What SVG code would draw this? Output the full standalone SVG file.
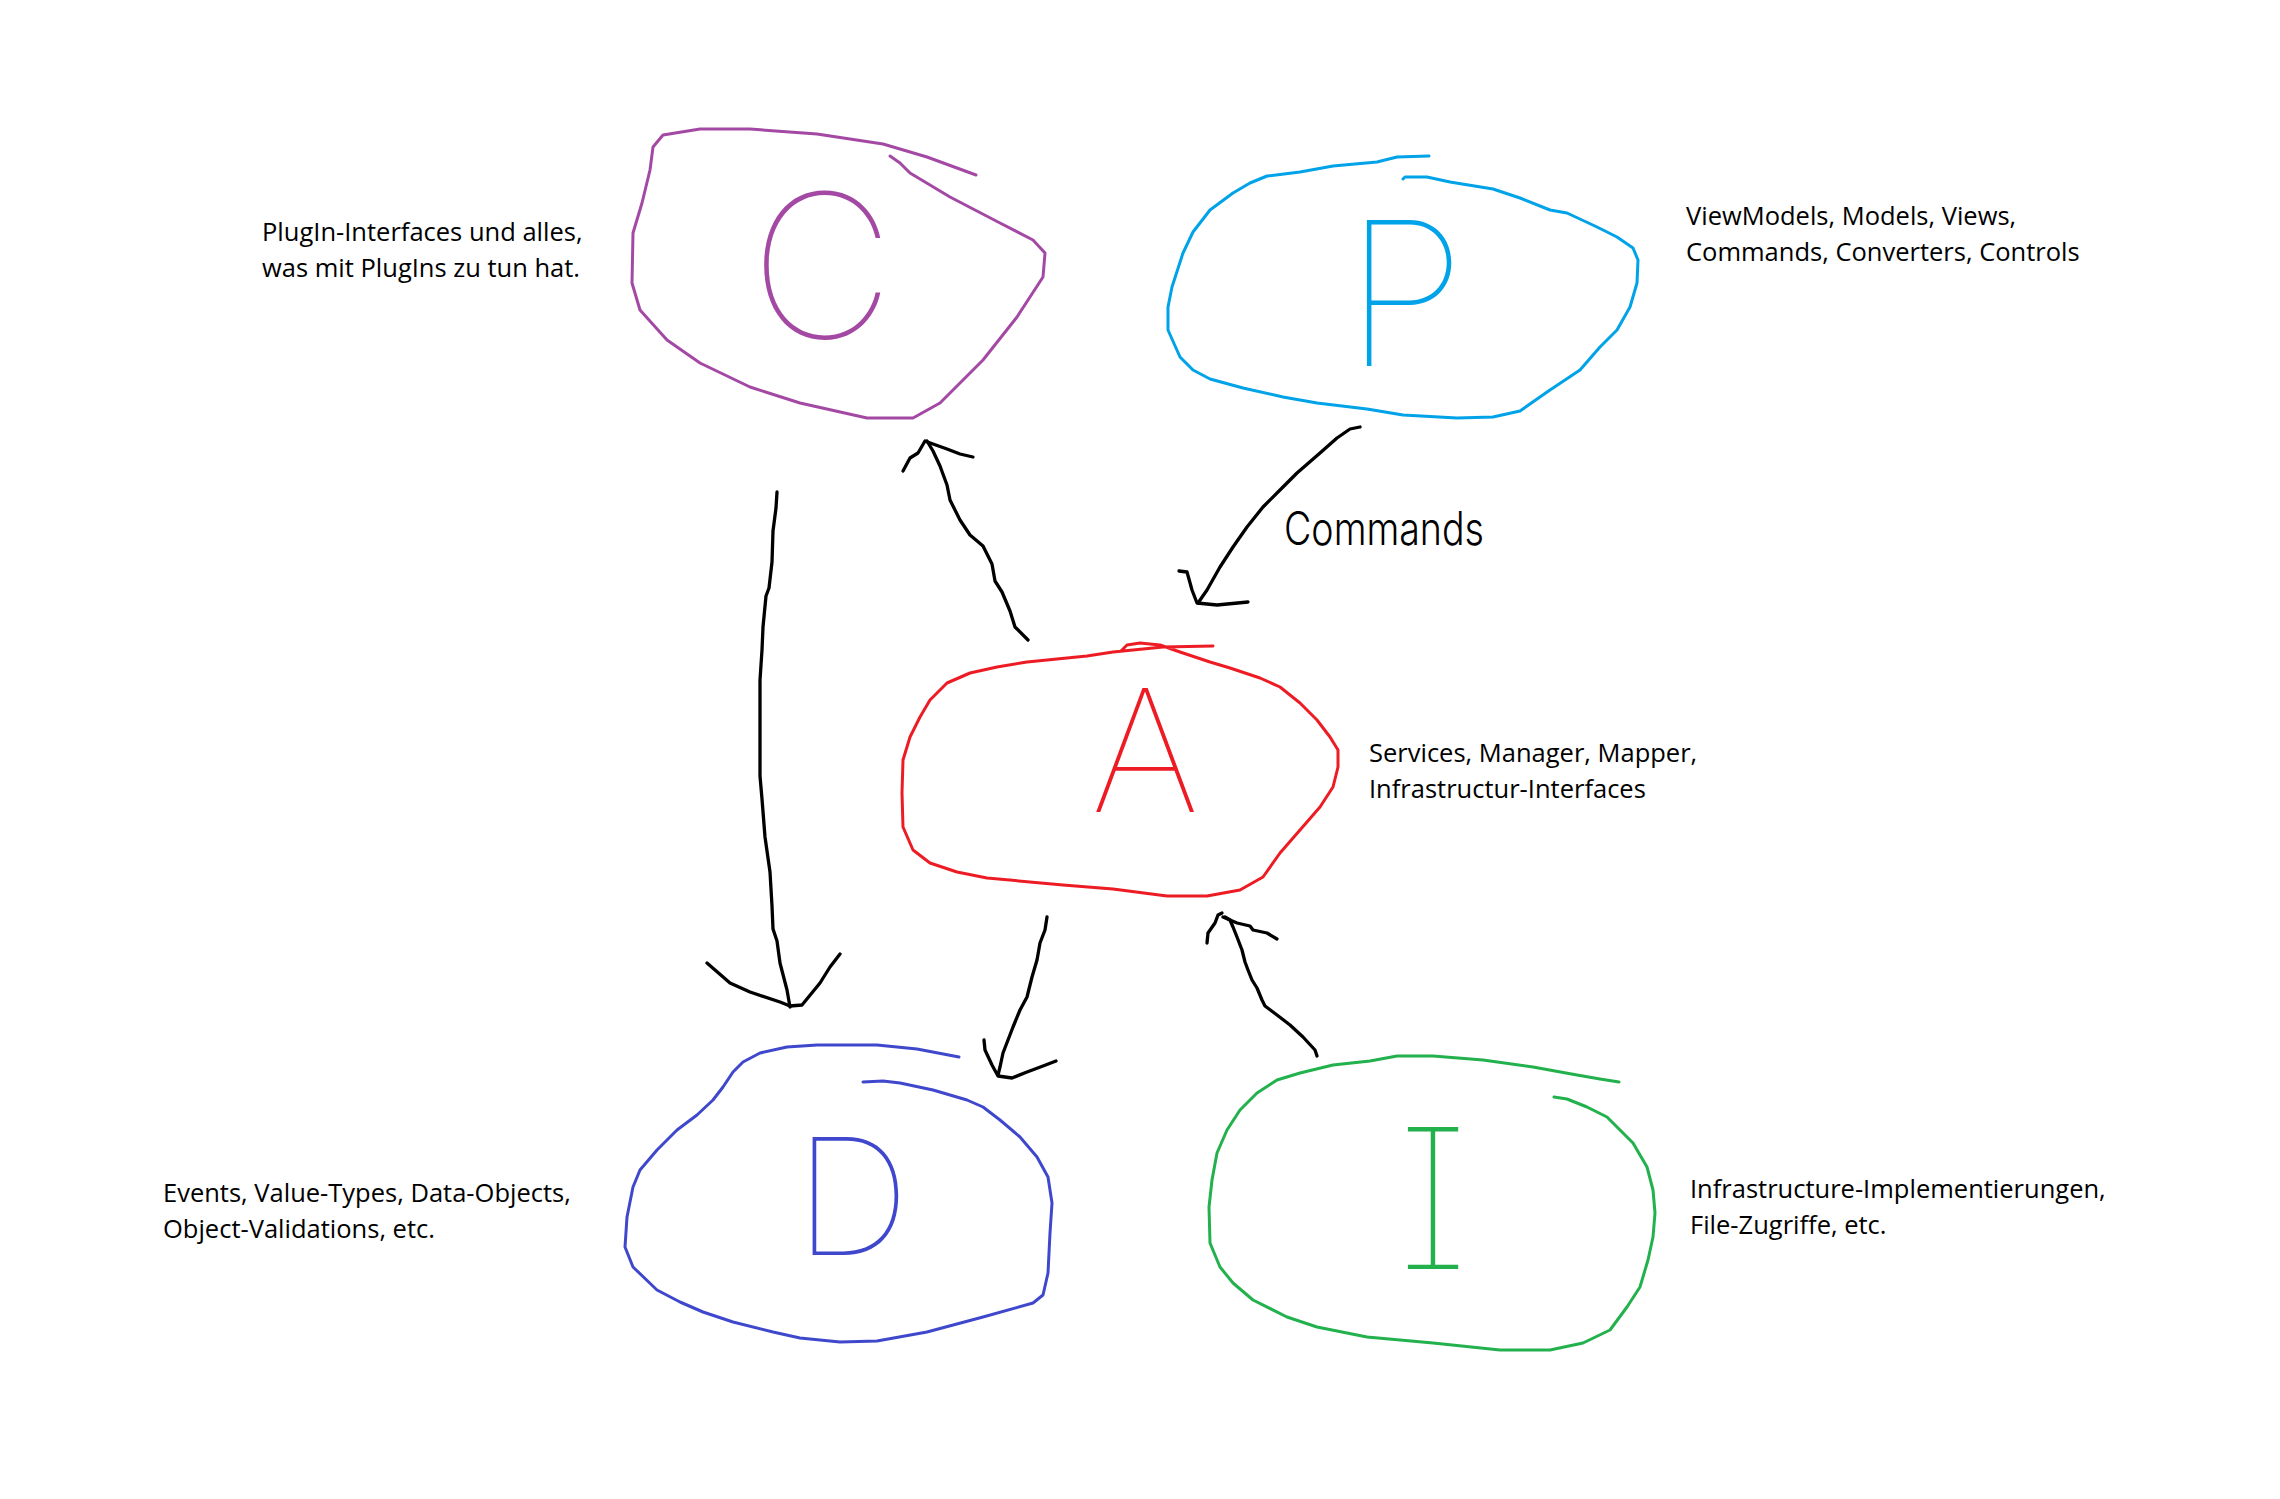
<svg xmlns="http://www.w3.org/2000/svg" width="2280" height="1499" viewBox="0 0 2280 1499">
<style>
.s{fill:none;stroke-width:3;stroke-linecap:round;stroke-linejoin:round}
.k{fill:none;stroke:#000;stroke-width:3.3;stroke-linecap:round;stroke-linejoin:round}
.lbl{font-family:"Open Sans","Noto Sans","Liberation Sans",sans-serif;font-size:25.5px;fill:#000}
.hand{font-family:Inter,Lato,Roboto,"DejaVu Sans",sans-serif;font-weight:100;text-anchor:middle}
.pu{stroke:#A349A4}.cy{stroke:#00A2E8}.rd{stroke:#ED1C24}.in{stroke:#3F48CC}.gr{stroke:#22B14C}
</style>
<rect width="2280" height="1499" fill="#fff"/>
<g id="node-C">
<polyline class="s pu" points="976,175 927,157 883,144 817,134 750,129 700,129 663,135 653,147 650,170 642,203 633,233 632,283 640,310 667,340 700,363 750,387 800,403 867,418 913,418 940,403 983,360 1017,317 1043,277 1045,253 1033,240 1000,223 950,197 910,173 900,163 890,156"/>
<text class="hand" x="822" y="338" font-size="200" fill="#A349A4">C</text>
<text class="lbl"><tspan x="262" y="241">PlugIn-Interfaces und alles,</tspan><tspan x="262" y="277">was mit PlugIns zu tun hat.</tspan></text>
</g>
<g id="node-P">
<polyline class="s cy" points="1429,156 1397,157 1377,162 1333,166 1300,172 1267,176 1250,183 1233,193 1210,210 1193,232 1183,253 1172,287 1168,307 1168,330 1180,357 1193,370 1210,379 1243,388 1283,397 1317,403 1367,409 1403,415 1457,418 1493,417 1520,411 1550,390 1580,370 1600,347 1617,330 1630,307 1637,283 1638,260 1633,248 1617,237 1597,227 1567,213 1550,210 1520,198 1493,189 1450,182 1427,177 1405,177 1403,179"/>
<text class="hand" x="1405" y="366" font-size="200" fill="#00A2E8">P</text>
<text class="lbl"><tspan x="1686" y="225">ViewModels, Models, Views,</tspan><tspan x="1686" y="261">Commands, Converters, Controls</tspan></text>
</g>
<g id="node-A">
<polyline class="s rd" points="1213,646 1163,647 1113,652 1087,656 1027,662 997,667 970,673 947,683 930,700 920,717 910,737 903,760 902,793 903,827 913,850 930,863 957,872 987,878 1063,885 1113,889 1167,896 1207,896 1240,890 1263,877 1280,853 1300,830 1320,807 1333,787 1338,767 1338,750 1330,737 1317,720 1300,703 1280,687 1260,678 1230,668 1210,662 1180,652 1160,645 1140,643 1127,645 1121,651"/>
<text class="hand" x="1145" y="812" font-size="170" fill="#ED1C24">A</text>
<text class="lbl"><tspan x="1369" y="762">Services, Manager, Mapper,</tspan><tspan x="1369" y="798">Infrastructur-Interfaces</tspan></text>
</g>
<g id="node-D">
<polyline class="s in" points="959,1057 917,1049 877,1045 817,1045 787,1047 760,1053 743,1062 733,1072 723,1087 713,1100 697,1115 677,1130 657,1150 640,1170 633,1187 627,1217 625,1247 633,1267 657,1290 680,1302 703,1312 733,1322 773,1332 800,1338 840,1342 877,1341 927,1332 983,1317 1033,1303 1043,1295 1048,1273 1050,1233 1052,1203 1048,1177 1037,1157 1020,1137 1000,1120 983,1107 967,1100 933,1090 900,1083 883,1081 863,1082"/>
<text class="hand" x="852" y="1255" font-size="162" fill="#3F48CC">D</text>
<text class="lbl"><tspan x="163" y="1202">Events, Value-Types, Data-Objects,</tspan><tspan x="163" y="1238">Object-Validations, etc.</tspan></text>
</g>
<g id="node-I">
<polyline class="s gr" points="1619,1082 1600,1079 1577,1075 1533,1067 1483,1060 1433,1056 1397,1056 1370,1061 1333,1065 1300,1073 1277,1080 1257,1093 1240,1110 1227,1130 1217,1153 1212,1180 1209,1207 1210,1243 1220,1267 1233,1283 1253,1300 1287,1317 1317,1327 1367,1337 1433,1343 1500,1350 1550,1350 1583,1343 1610,1330 1627,1307 1640,1287 1648,1260 1653,1237 1655,1213 1653,1190 1647,1167 1633,1143 1620,1130 1607,1117 1587,1107 1567,1099 1554,1097"/>
<text class="hand" x="1433" y="1269" font-size="195" fill="#22B14C" style="font-feature-settings:'cv08'">I</text>
<text class="lbl"><tspan x="1690" y="1198">Infrastructure-Implementierungen,</tspan><tspan x="1690" y="1234">File-Zugriffe, etc.</tspan></text>
</g>
<g id="connectors">
<polyline class="k" points="777,492 776,508 773,531 772,562 769,588 766,596 763,627 762,650 760,680 760,776 762,799 765,837 770,872 772,906 773,929 777,941 780,963 787,990 790,1007"/>
<polyline class="k" points="707,963 730,983 750,992 780,1002 790,1006 802,1005 820,983 830,967 840,954"/>
<polyline class="k" points="1028,640 1015,627 1010,611 1002,592 995,581 992,564 983,546 970,535 960,520 950,500 947,485 940,466 933,451 927,441"/>
<polyline class="k" points="903,471 910,458 918,453 925,441 933,444 947,449 960,454 973,457"/>
<polyline class="k" points="1360,427 1350,429 1337,438 1320,453 1297,473 1283,487 1263,507 1247,527 1233,547 1220,567 1207,590 1198,603"/>
<polyline class="k" points="1179,571 1187,572 1192,590 1197,603 1217,605 1248,602"/>
<text x="1284" y="545" font-family="Inter,Lato,Roboto,'DejaVu Sans',sans-serif" font-weight="300" font-size="46" textLength="200" lengthAdjust="spacingAndGlyphs" fill="#000">Commands</text>
<polyline class="k" points="1047,917 1045,930 1040,943 1037,960 1032,977 1027,997 1020,1010 1013,1027 1008,1040 1003,1053 1000,1067 998,1075"/>
<polyline class="k" points="984,1040 985,1050 992,1065 998,1076 1012,1078 1027,1072 1043,1066 1056,1061"/>
<polyline class="k" points="1317,1056 1315,1050 1303,1037 1290,1025 1277,1015 1265,1006 1262,1000 1257,988 1252,980 1248,970 1245,962 1242,950 1237,937 1233,927 1230,920 1225,917"/>
<polyline class="k" points="1207,943 1208,933 1215,923 1218,915 1222,913"/>
<polyline class="k" points="1223,917 1237,923 1250,926 1253,930 1267,933 1277,939"/>
</g>
</svg>
